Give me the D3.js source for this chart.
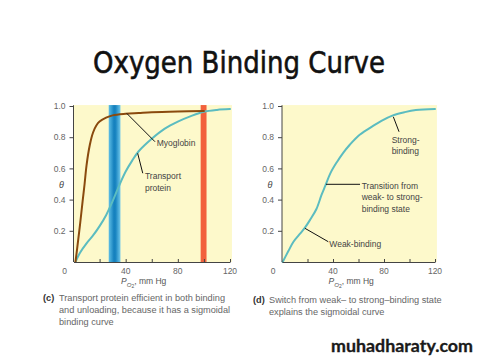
<!DOCTYPE html>
<html lang="en">

<head>
    <meta charset="UTF-8">
    <script type="text/javascript" src="https://d3js.org/d3.v7.min.js"></script>
    <title>Oxygen Binding Curve</title>
    <style>
        body {
            margin: 0;
            background: #fff;
        }

        svg text {
            font-family: "Liberation Sans", Arial, sans-serif;
        }
    </style>
</head>

<body>
    <svg id="svg" width="480" height="360"></svg>

    <script>
    // values (pO2 in mm Hg, theta = fraction bound)
    var pO2Ticks = [0, 40, 80, 120];
    var pO2MinorTicks = [20, 40, 60, 80, 100, 120];
    var thetaTicks = [0.2, 0.4, 0.6, 0.8, 1.0];

    var myoglobinP = [1.5, 3, 5, 7, 8.5, 10, 12.5, 15, 17.5, 20, 25, 30, 40, 50, 60, 80, 100];
    var myoglobinTheta = [0, 0.1, 0.24, 0.39, 0.5, 0.62, 0.75, 0.83, 0.875, 0.9, 0.925, 0.94, 0.95, 0.955, 0.96, 0.965, 0.968];

    var transportP = [1.5, 5, 10, 15, 20, 25, 30, 35, 40, 45, 50, 60, 70, 80, 90, 100, 110, 120];
    var transportTheta = [0, 0.06, 0.12, 0.17, 0.23, 0.3, 0.39, 0.49, 0.58, 0.65, 0.71, 0.79, 0.855, 0.9, 0.935, 0.963, 0.975, 0.98];

    var switchP = [0.5, 5, 9, 14, 18, 22, 27, 31, 34, 38, 43, 48, 53, 60, 69, 78, 87, 96, 105, 120];
    var switchTheta = [0, 0.07, 0.13, 0.18, 0.22, 0.27, 0.34, 0.43, 0.49, 0.57, 0.64, 0.7, 0.75, 0.81, 0.86, 0.905, 0.94, 0.96, 0.974, 0.98];

    // pO2 ranges of the two shaded bands in panel (c)
    var tissueBand = [27, 36];
    var lungBand = [97.5, 102];

    var svg = d3.select("svg");

    var defs = svg.append("defs");
    var grad = defs.append("linearGradient").attr("id", "blueBand");
    grad.append("stop").attr("offset", "0%").attr("stop-color", "#5fbfe6");
    grad.append("stop").attr("offset", "45%").attr("stop-color", "#1480bd");
    grad.append("stop").attr("offset", "60%").attr("stop-color", "#1a86c2");
    grad.append("stop").attr("offset", "100%").attr("stop-color", "#72c9ea");

    // title
    svg.append("text")
        .attr("x", 93)
        .attr("y", 73)
        .attr("textLength", 292)
        .attr("lengthAdjust", "spacingAndGlyphs")
        .style("font-family", "'Comic Sans MS', 'DejaVu Sans', sans-serif")
        .style("font-size", "30px")
        .attr("fill", "#111")
        .attr("stroke", "#111")
        .attr("stroke-width", 0.6)
        .text("Oxygen Binding Curve");

    function zip(xs, ys) {
        return xs.map((x, i) => ({ p: x, t: ys[i] }));
    }

    function drawPanel(x0, x1) {
        var xScale = d3.scaleLinear().domain([0, 120]).range([x0, x1]);
        var yScale = d3.scaleLinear().domain([0, 1]).range([262, 106]);
        var g = svg.append("g");

        g.append("rect")
            .attr("x", xScale(0))
            .attr("y", yScale(1.006))
            .attr("width", xScale(121.5) - xScale(0))
            .attr("height", yScale(0) - yScale(1.006))
            .attr("fill", "#fdf9cb");

        return { g: g, x: xScale, y: yScale };
    }

    function drawAxes(panel) {
        var g = panel.g;
        var yAxis = d3.axisLeft(panel.y)
            .tickValues(thetaTicks)
            .tickSize(4)
            .tickPadding(4)
            .tickFormat(d3.format(".1f"));
        var ya = g.append("g")
            .attr("transform", "translate(" + panel.x(0) + ",0)")
            .call(yAxis);
        ya.select(".domain").attr("stroke", "#444").attr("d", "M0," + panel.y(0) + "V" + panel.y(1.005));
        ya.selectAll(".tick line").attr("stroke", "#444");
        ya.selectAll("text").attr("fill", "#666").style("font-size", "8.5px");

        var xAxis = d3.axisBottom(panel.x)
            .tickValues(pO2MinorTicks)
            .tickSizeInner(-3)
            .tickSizeOuter(0)
            .tickFormat("");
        var xa = g.append("g")
            .attr("transform", "translate(0," + panel.y(0) + ")")
            .call(xAxis);
        xa.select(".domain").attr("stroke", "#444");
        xa.selectAll(".tick line").attr("stroke", "#444");

        g.selectAll(".xlab")
            .data(pO2Ticks)
            .enter()
            .append("text")
            .attr("x", (d) => d === 0 ? panel.x(d) - 9 : panel.x(d))
            .attr("y", 274)
            .attr("text-anchor", "middle")
            .attr("fill", "#666")
            .style("font-size", "8.5px")
            .text((d) => d);

        g.append("text")
            .attr("x", panel.x(0) - 12)
            .attr("y", 188)
            .attr("text-anchor", "middle")
            .attr("fill", "#444")
            .style("font-size", "9px")
            .style("font-style", "italic")
            .text("θ");

        var lab = g.append("text")
            .attr("x", panel.x(36.5))
            .attr("y", 284)
            .attr("fill", "#555")
            .style("font-size", "8.5px");
        lab.append("tspan").style("font-style", "italic").text("P");
        lab.append("tspan").attr("dy", 2.5).style("font-size", "6px").style("font-style", "italic").text("O");
        lab.append("tspan").attr("dy", 1.5).style("font-size", "5px").text("2");
        lab.append("tspan").attr("dy", -4).text(", mm Hg");
    }

    function drawCurve(panel, pts, color) {
        var line = d3.line()
            .x((d) => panel.x(d.p))
            .y((d) => panel.y(d.t))
            .curve(d3.curveCatmullRom.alpha(0.5));
        panel.g.append("path")
            .datum(pts)
            .attr("d", line)
            .attr("fill", "none")
            .attr("stroke", color)
            .attr("stroke-width", 2)
            .attr("stroke-linecap", "round");
    }

    function leader(panel, p1, t1, p2, t2) {
        panel.g.append("line")
            .attr("x1", panel.x(p1)).attr("y1", panel.y(t1))
            .attr("x2", panel.x(p2)).attr("y2", panel.y(t2))
            .attr("stroke", "#111")
            .attr("stroke-width", 1);
    }

    function note(panel, p, t, lines) {
        var txt = panel.g.append("text")
            .attr("fill", "#444")
            .style("font-size", "8.5px");
        lines.forEach((s, i) => {
            txt.append("tspan")
                .attr("x", panel.x(p))
                .attr("y", panel.y(t) + i * 11.5)
                .text(s);
        });
    }

    function caption(x, y, tag, lines) {
        var txt = svg.append("text")
            .attr("fill", "#666")
            .style("font-size", "9.2px");
        txt.append("tspan")
            .attr("x", x)
            .attr("y", y)
            .attr("fill", "#333")
            .style("font-weight", "bold")
            .text(tag);
        lines.forEach((s, i) => {
            txt.append("tspan")
                .attr("x", x + 16)
                .attr("y", y + i * 12)
                .text(s);
        });
    }

    // panel (c)
    var left = drawPanel(73.5, 230);

    left.g.append("rect")
        .attr("x", left.x(tissueBand[0]))
        .attr("y", left.y(1.006))
        .attr("width", left.x(tissueBand[1]) - left.x(tissueBand[0]))
        .attr("height", left.y(0) - left.y(1.006))
        .attr("fill", "url(#blueBand)");

    left.g.append("rect")
        .attr("x", left.x(lungBand[0]))
        .attr("y", left.y(1.006))
        .attr("width", left.x(lungBand[1]) - left.x(lungBand[0]))
        .attr("height", left.y(0) - left.y(1.006))
        .attr("fill", "#f2603c");

    drawCurve(left, zip(transportP, transportTheta), "#5bbcc0");
    drawCurve(left, zip(myoglobinP, myoglobinTheta), "#8a4a0e");
    drawAxes(left);

    leader(left, 40.8, 0.953, 62.5, 0.771);
    note(left, 63.8, 0.744, ["Myoglobin"]);
    leader(left, 49.2, 0.697, 53.1, 0.569);
    note(left, 54.8, 0.532, ["Transport", "protein"]);

    // panel (d)
    var right = drawPanel(282, 435);
    drawCurve(right, zip(switchP, switchTheta), "#5bbcc0");
    drawAxes(right);

    leader(right, 87.3, 0.931, 91.8, 0.835);
    note(right, 86.0, 0.763, ["Strong-", "binding"]);
    leader(right, 34.5, 0.498, 61.2, 0.498);
    note(right, 62.5, 0.468, ["Transition from", "weak- to strong-", "binding state"]);
    leader(right, 18.0, 0.216, 36.3, 0.13);
    note(right, 37.1, 0.096, ["Weak-binding"]);

    caption(43, 301, "(c)", [
        "Transport protein efficient in both binding",
        "and unloading, because it has a sigmoidal",
        "binding curve"
    ]);
    caption(253, 303, "(d)", [
        "Switch from weak– to strong–binding state",
        "explains the sigmoidal curve"
    ]);

    // site watermark
    svg.append("text")
        .attr("x", 331)
        .attr("y", 352)
        .attr("textLength", 142)
        .attr("lengthAdjust", "spacingAndGlyphs")
        .style("font-family", "Lato, 'Noto Sans', sans-serif")
        .style("font-weight", "bold")
        .style("font-size", "17px")
        .attr("fill", "#1a1a1a")
        .attr("stroke", "#1a1a1a")
        .attr("stroke-width", 0.3)
        .text("muhadharaty.com");
    </script>
</body>

</html>
